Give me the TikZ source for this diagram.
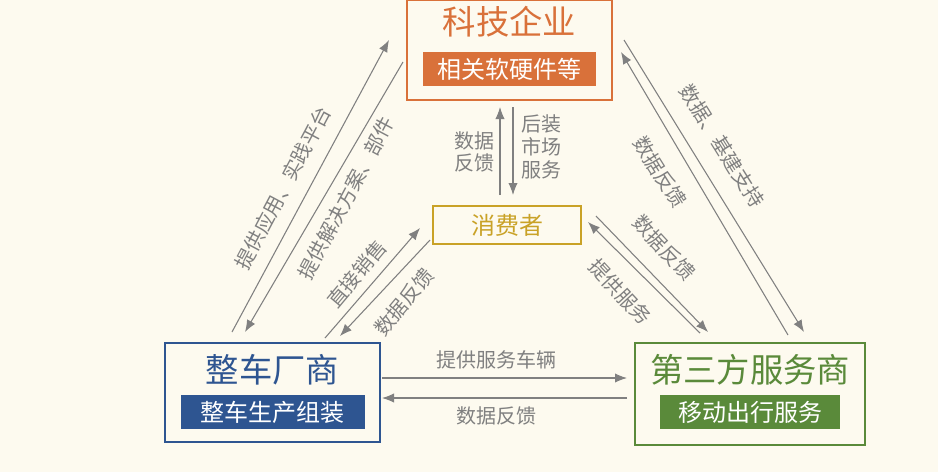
\documentclass[tikz,border=0pt]{standalone}
\usepackage{fontspec}
\setmainfont{Noto Sans CJK SC}
\usetikzlibrary{arrows.meta,positioning}
\definecolor{bgcream}{HTML}{FDFAEF}
\definecolor{techorange}{HTML}{D9713A}
\definecolor{usergold}{HTML}{C9A227}
\definecolor{oemblue}{HTML}{2E5591}
\definecolor{svcgreen}{HTML}{5A8A3A}
\definecolor{flowgray}{HTML}{808080}
\tikzset{
	party/.style={draw=#1, line width=1.2pt, fill=bgcream},
	partytitle/.style={text=#1, font=\fontsize{25}{27}\selectfont},
	partytag/.style={fill=#1, text=white, font=\fontsize{18}{20}\selectfont, minimum height=26pt, inner sep=1pt},
	flow/.style={draw=flowgray, line width=0.8pt, -{Latex[length=9pt,width=7pt]}},
	flowlabel/.style={text=flowgray, font=\fontsize{15}{17}\selectfont, align=center, inner sep=1pt}
}
\begin{document}
\begin{tikzpicture}[x=0.75pt, y=-0.75pt]
		\fill[bgcream] (0,0) rectangle (938,472);
		\useasboundingbox (0,0) rectangle (938,472);
		% boxes
		\draw[party=techorange] (407,0) rectangle (612,100);
		\node[partytitle=techorange] (techtitle) at (509.5,22) {科技企业};
		\node[partytag=techorange, minimum width=130pt] (techtag) at (509.5,69) {相关软硬件等};
		\draw[party=usergold] (433,206) rectangle (581,244);
		\node[partytitle=usergold, font=\fontsize{18}{20}\selectfont] (user) at (507,225) {消费者};
		\draw[party=oemblue] (165,343) rectangle (380,442);
		\node[partytitle=oemblue] (oemtitle) at (272.5,370) {整车厂商};
		\node[partytag=oemblue, minimum width=138pt] (oemtag) at (272.5,412) {整车生产组装};
		\draw[party=svcgreen] (635,343) rectangle (865,445);
		\node[partytitle=svcgreen] (svctitle) at (750,370) {第三方服务商};
		\node[partytag=svcgreen, minimum width=135pt] (svctag) at (750,412) {移动出行服务};
		% flow ends
		\coordinate (tu1) at (500,195); \coordinate (tu2) at (500,107);
		\coordinate (td1) at (513,107); \coordinate (td2) at (513,195);
		\coordinate (lu1) at (232,332); \coordinate (lu2) at (389,40);
		\coordinate (ld1) at (403,62);  \coordinate (ld2) at (245,332);
		\coordinate (su1) at (325,338); \coordinate (su2) at (420,228);
		\coordinate (sd1) at (430,240); \coordinate (sd2) at (340,336);
		\coordinate (ru1) at (788,335); \coordinate (ru2) at (621,52);
		\coordinate (rd1) at (624,40);  \coordinate (rd2) at (804,332);
		\coordinate (qu1) at (700,333); \coordinate (qu2) at (588,222);
		\coordinate (qd1) at (596,216); \coordinate (qd2) at (708,332);
		\coordinate (bu1) at (382,378); \coordinate (bu2) at (627,378);
		\coordinate (bd1) at (627,398); \coordinate (bd2) at (382,398);
		% flows
		\draw[flow] (tu1) -- (tu2);
		\draw[flow] (td1) -- (td2);
		\draw[flow] (lu1) -- (lu2);
		\draw[flow] (ld1) -- (ld2);
		\draw[flow] (su1) -- (su2);
		\draw[flow] (sd1) -- (sd2);
		\draw[flow] (ru1) -- (ru2);
		\draw[flow] (rd1) -- (rd2);
		\draw[flow] (qu1) -- (qu2);
		\draw[flow] (qd1) -- (qd2);
		\draw[flow] (bu1) -- (bu2);
		\draw[flow] (bd1) -- (bd2);
		% labels
		\node[flowlabel] (tfb) at (474,152) {数据\\反馈};
		\node[flowlabel] (tsv) at (541,147) {后装\\市场\\服务};
		\node[flowlabel, rotate=62] (lapp) at (283,188) {提供应用、实践平台};
		\node[flowlabel, rotate=62] (lsol) at (346,198) {提供解决方案、部件};
		\node[flowlabel, rotate=50] (ssale) at (357,274) {直接销售};
		\node[flowlabel, rotate=50] (sfb) at (404,302) {数据反馈};
		\node[flowlabel, rotate=-58] (rdata) at (722,146) {数据、基建支持};
		\node[flowlabel, rotate=-58] (rfb) at (660,172) {数据反馈};
		\node[flowlabel, rotate=-47] (qfb) at (664,248) {数据反馈};
		\node[flowlabel, rotate=-47] (qsv) at (620,292) {提供服务};
		\node[flowlabel] (bveh) at (496,360) {提供服务车辆};
		\node[flowlabel] (bfb) at (496,416) {数据反馈};
\end{tikzpicture}
\end{document}
